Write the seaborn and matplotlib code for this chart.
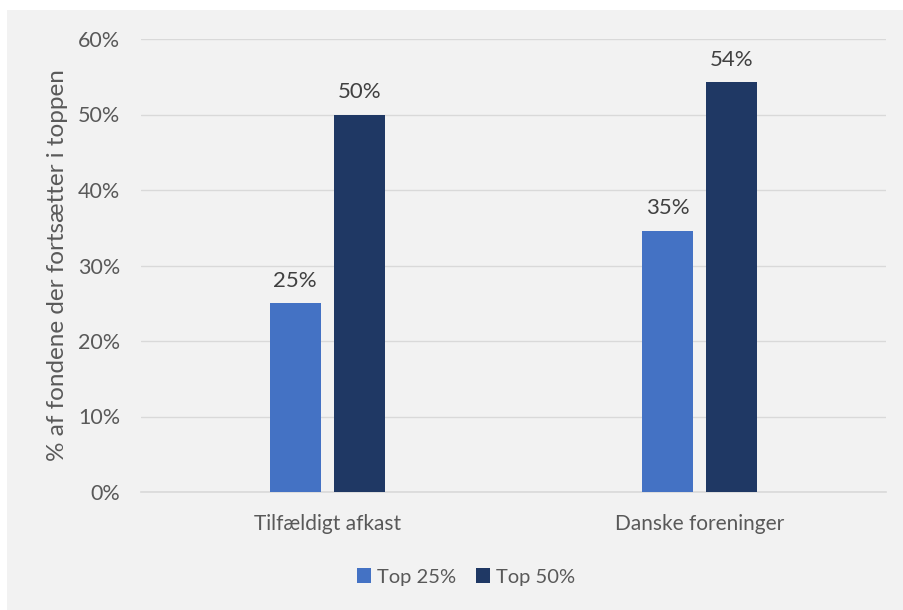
import matplotlib
matplotlib.use("Agg")
import matplotlib.pyplot as plt
from matplotlib.patches import Rectangle
from matplotlib.ticker import PercentFormatter
import pandas as pd
import seaborn as sns

categories = ["Tilfældigt afkast", "Danske foreninger"]
series = ["Top 25%", "Top 50%"]
top25 = [0.25, 0.346]
top50 = [0.50, 0.543]
yticks = [0.0, 0.1, 0.2, 0.3, 0.4, 0.5, 0.6]

colors = ["#4472C4", "#1F3864"]
text_color = "#595959"
bg = "#F2F2F2"

df = pd.DataFrame({
    "kategori": categories * 2,
    "serie": [series[0]] * 2 + [series[1]] * 2,
    "andel": top25 + top50,
})

sns.set_theme(style="white")
plt.rcParams["font.family"] = ["Lato", "DejaVu Sans"]

fig = plt.figure(figsize=(9.04, 6.10), dpi=100, facecolor="white")
fig.patches.append(Rectangle((7 / 904, 0), 1 - 7 / 904, 1 - 10 / 610,
                             transform=fig.transFigure, facecolor=bg,
                             edgecolor="none", zorder=-10))
ax = fig.add_axes([141 / 904, 1 - 492 / 610, (886 - 141) / 904, (492 - 39) / 610])
ax.set_facecolor(bg)

sns.barplot(data=df, x="kategori", y="andel", hue="serie", order=categories,
            hue_order=series, palette=colors, saturation=1, width=0.344, gap=0.2,
            linewidth=0, ax=ax, zorder=3, legend=True)

for container in ax.containers:
    ax.bar_label(container, labels=[f"{v:.0%}" for v in container.datavalues],
                 padding=9, fontsize=16, color="#404040")

ax.set_ylim(0, 0.6)
ax.set_yticks(yticks)
ax.yaxis.set_major_formatter(PercentFormatter(1.0, decimals=0))
ax.grid(axis="y", color="#D9D9D9", linewidth=1.0, zorder=0)
ax.set_axisbelow(True)
for side in ["top", "right", "left"]:
    ax.spines[side].set_visible(False)
ax.spines["bottom"].set_color("#D9D9D9")
ax.spines["bottom"].set_linewidth(1.2)
ax.tick_params(axis="both", length=0, labelcolor=text_color)
ax.tick_params(axis="y", pad=15, labelsize=15.5)
ax.tick_params(axis="x", pad=16, labelsize=15)
ax.set_xlabel("")
ax.set_ylabel("% af fondene der fortsætter i toppen", fontsize=17.5,
              color=text_color, labelpad=7)

handles, labels = ax.get_legend_handles_labels()
ax.legend(handles, labels, loc="center", bbox_to_anchor=(466 / 904, 1 - 577 / 610),
          bbox_transform=fig.transFigure, ncol=2, frameon=False, fontsize=14.5,
          labelcolor=text_color, handlelength=0.7, handleheight=0.7,
          handletextpad=0.3, columnspacing=1.0)

fig.savefig("out.png", dpi=100, facecolor="white")
